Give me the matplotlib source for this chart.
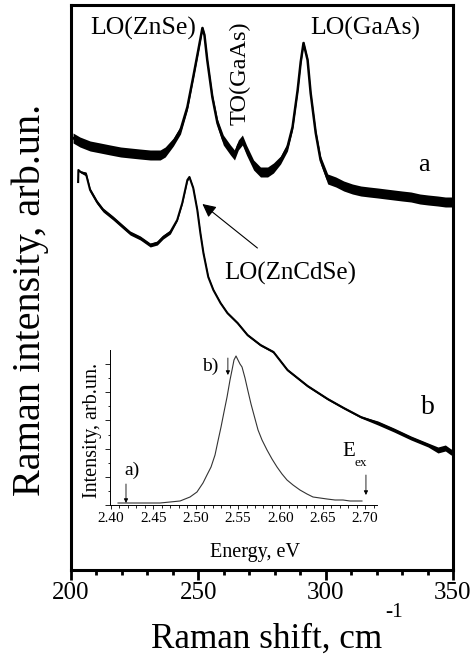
import matplotlib
matplotlib.use('Agg')
import matplotlib.pyplot as plt
from matplotlib.ticker import MultipleLocator, NullLocator
import numpy as np

plt.rcParams['font.family'] = ['Liberation Serif', 'DejaVu Serif']

# ---- spectrum a (Raman shift cm-1, intensity arb.un., noise half-spread) ----
a_shift = [200.8, 203.5, 207.5, 211.5, 215.4, 219.5, 223.2, 227.0, 231.1, 235.0,
           237.0, 240.2, 243.0, 245.7, 248.0, 250.0, 251.6, 252.4, 253.5, 255.5,
           257.5, 259.8, 262.6, 264.2, 265.7, 267.3, 268.9, 271.7, 274.4, 277.2,
           279.5, 282.3, 285.0, 287.0, 289.0, 290.2, 291.3, 292.9, 294.1, 296.1,
           298.0, 300.8, 304.0, 307.1, 310.5, 313.8, 317.0, 320.5, 323.6, 326.8,
           330.0, 333.5, 337.0, 340.2, 344.0, 347.0, 350.0]
a_int = [432, 428, 424, 422, 420, 418, 417, 416, 415, 415,
         418, 428, 440, 463, 493, 520, 542, 535, 510, 473,
         447, 430, 420, 415, 425, 430, 420, 405, 398, 398,
         402, 410, 423, 443, 480, 508, 527, 510, 477, 437,
         410, 391, 388, 384, 381, 379, 378, 377, 376, 375,
         374, 373, 371, 370, 369, 368, 368]
a_spread = [5, 5, 5, 5, 5, 5, 5, 5, 5, 5,
            5, 4, 4, 3, 2, 2, 2, 2, 2, 3,
            4, 5, 5, 5, 5, 5, 5, 5, 5, 5,
            5, 4, 4, 3, 2, 2, 2, 2, 2, 3,
            4, 5, 5, 5, 5, 5, 5, 5, 5, 5,
            5, 5, 5, 5, 5, 5, 5]

# ---- spectrum b ----
b_shift = [202.8, 202.9, 203.8, 205.9, 207.5, 210.2, 212.6, 216.5, 220.5, 223.2,
           227.2, 231.1, 233.9, 236.2, 239.0, 241.7, 243.7, 245.7, 246.5, 248.0,
           249.6, 250.8, 252.0, 253.9, 255.9, 258.7, 261.4, 265.4, 269.3, 274.4,
           279.5, 285.0, 292.9, 300.8, 307.1, 313.8, 320.5, 326.8, 333.5, 340.2,
           344.1, 347.0, 349.2, 350.0]
b_int = [388, 400, 398, 396, 380, 368, 360, 352, 343, 337,
         332, 325, 327, 333, 338, 350, 367, 390, 393, 382,
         360, 337, 317, 293, 280, 267, 257, 247, 235, 225,
         218, 200, 184, 171, 162, 153, 147, 140, 132, 125,
         120, 122, 118, 118]
b_spread = [0, 0, 1, 2, 2, 2, 2, 2, 2, 2,
            2, 2, 2, 2, 2, 1, 1, 1, 1, 1,
            1, 1, 1, 1, 1, 1, 1, 1, 1, 1,
            1, 1, 1, 1, 1, 1, 2, 2, 2, 2,
            3, 3, 3, 3]

# ---- inset: PL spectrum ----
pl_energy = [2.4083, 2.4342, 2.4579, 2.4697, 2.4815, 2.4933, 2.5015, 2.5086, 2.5133, 2.5181,
             2.5228, 2.5263, 2.5299, 2.5334, 2.5370, 2.5405, 2.5429, 2.5452, 2.5476, 2.5499,
             2.5523, 2.5547, 2.5582, 2.5617, 2.5653, 2.5688, 2.5736, 2.5783, 2.5842, 2.5901,
             2.5960, 2.6019, 2.6078, 2.6149, 2.6231, 2.6314, 2.6385, 2.6468, 2.6550, 2.6645,
             2.6739, 2.6822, 2.6916, 2.6963]
pl_int = [2, 2, 2, 3, 4, 8, 13, 22, 30, 38,
          50, 64, 78, 93, 108, 125, 135, 145, 149, 145,
          141, 138, 127, 114, 101, 90, 75, 65, 55, 46,
          38, 31, 25, 20, 15, 11, 8, 7, 6, 5,
          5, 4, 4, 4]

xticks_main = [200, 250, 300, 350]
xticks_inset = [2.40, 2.45, 2.50, 2.55, 2.60, 2.65, 2.70]

W, H = 477, 655
fig = plt.figure(figsize=(W / 100, H / 100), dpi=100)

# main axes: px left 71, right 453, top 5, bottom 570
ax = fig.add_axes([71 / W, (H - 570) / H, 382 / W, 565 / H])
ax.set_xlim(200, 350)
ax.set_ylim(0, 565)

a_s = np.array(a_shift); a_i = np.array(a_int); a_n = np.array(a_spread)
b_s = np.array(b_shift); b_i = np.array(b_int); b_n = np.array(b_spread)
ax.fill_between(a_s, a_i - a_n, a_i + a_n, color='k', lw=0)
ax.plot(a_s, a_i, color='k', lw=1.8)
ax.fill_between(b_s, b_i - b_n, b_i + b_n, color='k', lw=0)
ax.plot(b_s, b_i, color='k', lw=1.5)

for s in ax.spines.values():
    s.set_linewidth(2.2)
ax.set_xticks(xticks_main)
ax.set_xticklabels([str(v) for v in xticks_main])
ax.xaxis.set_minor_locator(MultipleLocator(10))
ax.yaxis.set_major_locator(NullLocator())
ax.yaxis.set_minor_locator(NullLocator())
ax.tick_params(axis='x', which='major', direction='out', length=7.5, width=2, labelsize=18, pad=1)
ax.tick_params(axis='x', which='minor', direction='out', length=3.8, width=2)

ax.text(228.3, 542, 'LO(ZnSe)', fontsize=18.5, ha='center', va='center')
ax.text(266.5, 497, 'TO(GaAs)', fontsize=17.5, ha='center', va='center', rotation=90)
ax.text(315.4, 542, 'LO(GaAs)', fontsize=18.5, ha='center', va='center')
ax.text(338.6, 405, 'a', fontsize=19, ha='center', va='center')
ax.text(340.2, 162, 'b', fontsize=20, ha='center', va='center')
ax.text(286.2, 297, 'LO(ZnCdSe)', fontsize=18, ha='center', va='center')
ax.annotate('', xy=(251.6, 366), xytext=(273.2, 322),
            arrowprops=dict(arrowstyle='-|>', lw=0.8, color='k', mutation_scale=20,
                            shrinkA=0, shrinkB=0))

fig.text(30 / W, 1 - 300 / H, 'Raman intensity, arb.un.', fontsize=29,
         ha='center', va='center', rotation=90)
fig.text(151 / W, 1 - 648 / H, 'Raman shift, cm', fontsize=25.3,
         ha='left', va='baseline')
fig.text(385 / W, 1 - 617 / H, '-1', fontsize=15.5, ha='left', va='baseline')

# inset axes: px left 110, right 377, top 350, bottom 505
axi = fig.add_axes([110 / W, (H - 505) / H, 267 / W, 155 / H])
axi.set_facecolor('none')
axi.set_xlim(2.40 - 1 / 847, 2.40 + 266 / 847)
axi.set_ylim(0, 155)
axi.plot(pl_energy, pl_int, color='#333333', lw=0.8)
axi.spines['top'].set_visible(False)
axi.spines['right'].set_visible(False)
axi.spines['left'].set_linewidth(0.7)
axi.spines['bottom'].set_linewidth(0.7)
axi.set_xticks(xticks_inset)
axi.set_xticklabels(['%.2f' % v for v in xticks_inset])
axi.xaxis.set_minor_locator(MultipleLocator(0.01))
axi.yaxis.set_major_locator(MultipleLocator(28.2))
axi.yaxis.set_minor_locator(MultipleLocator(14.1))
axi.tick_params(axis='x', which='major', direction='out', length=3, width=0.6, labelsize=11, pad=2)
axi.tick_params(axis='x', which='minor', direction='out', length=2.5, width=0.6)
axi.tick_params(axis='y', which='major', direction='out', length=3.5, width=0.6, labelleft=False)
axi.tick_params(axis='y', which='minor', direction='out', length=1.8, width=0.6)

axi.text(2.4248, 35, 'a)', fontsize=14, ha='center', va='center')
axi.annotate('', xy=(2.4177, 2), xytext=(2.4177, 21),
             arrowprops=dict(arrowstyle='-|>', lw=0.6, color='k', mutation_scale=6,
                             shrinkA=0, shrinkB=0))
axi.text(2.517, 139, 'b)', fontsize=14, ha='center', va='center')
axi.annotate('', xy=(2.538, 130), xytext=(2.538, 147),
             arrowprops=dict(arrowstyle='-|>', lw=0.6, color='k', mutation_scale=6,
                             shrinkA=0, shrinkB=0))
axi.text(2.6804, 54, 'E', fontsize=15, ha='center', va='center')
axi.text(2.6952, 42, 'ex', fontsize=9.5, ha='center', va='center')
axi.annotate('', xy=(2.701, 10), xytext=(2.701, 30),
             arrowprops=dict(arrowstyle='-|>', lw=0.6, color='k', mutation_scale=6,
                             shrinkA=0, shrinkB=0))

fig.text(255 / W, 1 - 552 / H, 'Energy, eV', fontsize=14.5, ha='center', va='center')
fig.text(93 / W, 1 - 430 / H, 'Intensity, arb.un.', fontsize=14.5, ha='center',
         va='center', rotation=90)

fig.savefig('out.png', dpi=100)
